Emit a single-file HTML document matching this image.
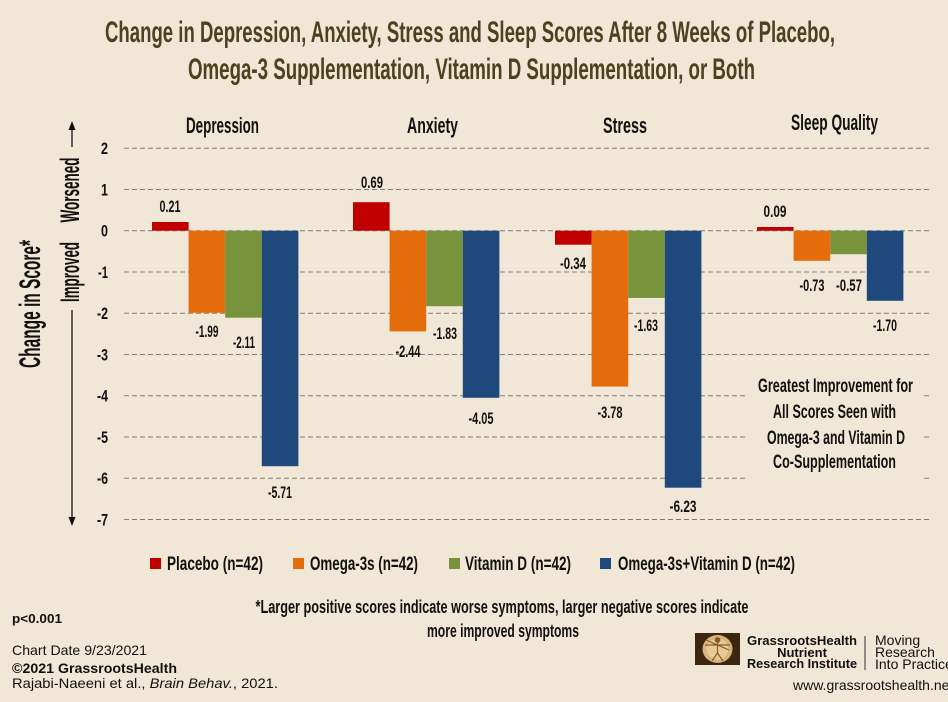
<!DOCTYPE html>
<html><head><meta charset="utf-8"><style>
html,body{margin:0;padding:0;background:#F1E7D6;}
svg{display:block;}
.c{font-family:"Liberation Sans Narrow","Liberation Sans",sans-serif;font-weight:bold;fill:#111;}
.t{font-family:"Liberation Sans Narrow","Liberation Sans",sans-serif;font-weight:bold;fill:#4A4221;}
.a{font-family:"Liberation Sans",Arial,sans-serif;fill:#111;}
</style></head><body>
<svg width="948" height="702" viewBox="0 0 948 702" xmlns="http://www.w3.org/2000/svg">
<rect width="948" height="702" fill="#F1E7D6"/>
<!-- Title -->
<text class="t" x="470" y="42" font-size="30" text-anchor="middle" textLength="730" lengthAdjust="spacingAndGlyphs">Change in Depression, Anxiety, Stress and Sleep Scores After 8 Weeks of Placebo,</text>
<text class="t" x="471.5" y="79" font-size="30" text-anchor="middle" textLength="567" lengthAdjust="spacingAndGlyphs">Omega-3 Supplementation, Vitamin D Supplementation, or Both</text>

<!-- Category labels -->
<text class="c" x="222.5" y="133" font-size="22" text-anchor="middle" textLength="73" lengthAdjust="spacingAndGlyphs">Depression</text>
<text class="c" x="432.5" y="133" font-size="22" text-anchor="middle" textLength="51" lengthAdjust="spacingAndGlyphs">Anxiety</text>
<text class="c" x="625" y="133" font-size="22" text-anchor="middle" textLength="44" lengthAdjust="spacingAndGlyphs">Stress</text>
<text class="c" x="834.5" y="130" font-size="22" text-anchor="middle" textLength="87" lengthAdjust="spacingAndGlyphs">Sleep Quality</text>

<!-- Gridlines -->
<g stroke="#7F7F7F" stroke-width="1" stroke-dasharray="5,3">
<line x1="124" x2="932" y1="148.2" y2="148.2"/>
<line x1="124" x2="932" y1="189.45" y2="189.45"/>
<line x1="124" x2="932" y1="230.7" y2="230.7"/>
<line x1="124" x2="932" y1="271.95" y2="271.95"/>
<line x1="124" x2="932" y1="313.2" y2="313.2"/>
<line x1="124" x2="932" y1="354.45" y2="354.45"/>
<line x1="124" x2="932" y1="395.7" y2="395.7"/>
<line x1="124" x2="932" y1="436.95" y2="436.95"/>
<line x1="124" x2="932" y1="478.2" y2="478.2"/>
<line x1="124" x2="932" y1="519.45" y2="519.45"/>
</g>
<!-- text box background -->
<rect x="745" y="366" width="177" height="118" fill="#F1E7D6"/>

<!-- Tick labels -->
<g class="c" font-size="17" text-anchor="end">
<text x="108" y="154.2" textLength="7" lengthAdjust="spacingAndGlyphs">2</text>
<text x="108" y="195.5" textLength="7" lengthAdjust="spacingAndGlyphs">1</text>
<text x="108" y="236.7" textLength="7" lengthAdjust="spacingAndGlyphs">0</text>
<text x="108" y="278" textLength="10" lengthAdjust="spacingAndGlyphs">-1</text>
<text x="108" y="319.2" textLength="11" lengthAdjust="spacingAndGlyphs">-2</text>
<text x="108" y="360.5" textLength="11" lengthAdjust="spacingAndGlyphs">-3</text>
<text x="108" y="401.7" textLength="11" lengthAdjust="spacingAndGlyphs">-4</text>
<text x="108" y="443" textLength="11" lengthAdjust="spacingAndGlyphs">-5</text>
<text x="108" y="484.2" textLength="11" lengthAdjust="spacingAndGlyphs">-6</text>
<text x="108" y="525.5" textLength="11" lengthAdjust="spacingAndGlyphs">-7</text>
</g>

<!-- Bars -->
<g>
<!-- Depression -->
<rect x="152" y="222.0" width="36.6" height="8.7" fill="#C00000"/>
<rect x="188.6" y="230.7" width="36.6" height="82.1" fill="#E46C0A"/>
<rect x="225.2" y="230.7" width="36.6" height="87.0" fill="#77933C"/>
<rect x="261.8" y="230.7" width="36.6" height="235.5" fill="#1F497D"/>
<!-- Anxiety -->
<rect x="353" y="202.2" width="36.6" height="28.5" fill="#C00000"/>
<rect x="389.6" y="230.7" width="36.6" height="100.7" fill="#E46C0A"/>
<rect x="426.2" y="230.7" width="36.6" height="75.5" fill="#77933C"/>
<rect x="462.8" y="230.7" width="36.6" height="167.1" fill="#1F497D"/>
<!-- Stress -->
<rect x="555" y="230.7" width="36.6" height="14.0" fill="#C00000"/>
<rect x="591.6" y="230.7" width="36.6" height="155.9" fill="#E46C0A"/>
<rect x="628.2" y="230.7" width="36.6" height="67.2" fill="#77933C"/>
<rect x="664.8" y="230.7" width="36.6" height="257.0" fill="#1F497D"/>
<!-- Sleep -->
<rect x="757" y="227.0" width="36.6" height="3.7" fill="#C00000"/>
<rect x="793.6" y="230.7" width="36.6" height="30.1" fill="#E46C0A"/>
<rect x="830.2" y="230.7" width="36.6" height="23.5" fill="#77933C"/>
<rect x="866.8" y="230.7" width="36.6" height="70.1" fill="#1F497D"/>
</g>

<!-- Value labels -->
<g class="c" font-size="17" text-anchor="middle">
<text x="170" y="212" textLength="21" lengthAdjust="spacingAndGlyphs">0.21</text>
<text x="207" y="337" textLength="23" lengthAdjust="spacingAndGlyphs">-1.99</text>
<text x="244" y="348" textLength="22" lengthAdjust="spacingAndGlyphs">-2.11</text>
<text x="280" y="498" textLength="24" lengthAdjust="spacingAndGlyphs">-5.71</text>
<text x="372" y="188" textLength="22" lengthAdjust="spacingAndGlyphs">0.69</text>
<text x="408" y="357" textLength="25" lengthAdjust="spacingAndGlyphs">-2.44</text>
<text x="445" y="339" textLength="24" lengthAdjust="spacingAndGlyphs">-1.83</text>
<text x="481" y="424" textLength="25" lengthAdjust="spacingAndGlyphs">-4.05</text>
<text x="573" y="269" textLength="26" lengthAdjust="spacingAndGlyphs">-0.34</text>
<text x="610" y="418" textLength="25" lengthAdjust="spacingAndGlyphs">-3.78</text>
<text x="646" y="331" textLength="24" lengthAdjust="spacingAndGlyphs">-1.63</text>
<text x="683" y="512" textLength="27" lengthAdjust="spacingAndGlyphs">-6.23</text>
<text x="775" y="217" textLength="23" lengthAdjust="spacingAndGlyphs">0.09</text>
<text x="812" y="291" textLength="25" lengthAdjust="spacingAndGlyphs">-0.73</text>
<text x="849" y="291" textLength="26" lengthAdjust="spacingAndGlyphs">-0.57</text>
<text x="885" y="331" textLength="24" lengthAdjust="spacingAndGlyphs">-1.70</text>
</g>

<!-- Text box -->
<g class="c" font-size="19" text-anchor="middle">
<text x="835.5" y="392" textLength="155" lengthAdjust="spacingAndGlyphs">Greatest Improvement for</text>
<text x="834.5" y="418" textLength="123" lengthAdjust="spacingAndGlyphs">All Scores Seen with</text>
<text x="836" y="444" textLength="138" lengthAdjust="spacingAndGlyphs">Omega-3 and Vitamin D</text>
<text x="834.5" y="468" textLength="123" lengthAdjust="spacingAndGlyphs">Co-Supplementation</text>
</g>

<!-- Y axis arrows and labels -->
<g stroke="#111" stroke-width="1.3">
<line x1="72" y1="128" x2="72" y2="147"/>
<line x1="72" y1="310" x2="72" y2="518"/>
</g>
<polygon points="72,121 68.5,130 75.5,130" fill="#111"/>
<polygon points="72,526 68.5,517 75.5,517" fill="#111"/>
<text class="c" font-size="27" transform="translate(79,190) rotate(-90)" text-anchor="middle" textLength="65" lengthAdjust="spacingAndGlyphs">Worsened</text>
<text class="c" font-size="27" transform="translate(79,272) rotate(-90)" text-anchor="middle" textLength="60" lengthAdjust="spacingAndGlyphs">Improved</text>
<text class="c" font-size="30" transform="translate(40,304) rotate(-90)" text-anchor="middle" textLength="128" lengthAdjust="spacingAndGlyphs">Change in Score*</text>

<!-- Legend -->
<rect x="150" y="558" width="11" height="11" fill="#C00000"/>
<text class="c" x="167" y="570" font-size="19" textLength="96" lengthAdjust="spacingAndGlyphs">Placebo (n=42)</text>
<rect x="293" y="558" width="11" height="11" fill="#E46C0A"/>
<text class="c" x="310" y="570" font-size="19" textLength="108" lengthAdjust="spacingAndGlyphs">Omega-3s (n=42)</text>
<rect x="449" y="558" width="11" height="11" fill="#77933C"/>
<text class="c" x="465" y="570" font-size="19" textLength="106" lengthAdjust="spacingAndGlyphs">Vitamin D (n=42)</text>
<rect x="600" y="558" width="11" height="11" fill="#1F497D"/>
<text class="c" x="618" y="570" font-size="19" textLength="177" lengthAdjust="spacingAndGlyphs">Omega-3s+Vitamin D (n=42)</text>

<!-- Footnote -->
<text class="c" x="502" y="613" font-size="18" text-anchor="middle" textLength="493" lengthAdjust="spacingAndGlyphs">*Larger positive scores indicate worse symptoms, larger negative scores indicate</text>
<text class="c" x="503" y="637" font-size="18" text-anchor="middle" textLength="152" lengthAdjust="spacingAndGlyphs">more improved symptoms</text>

<!-- Bottom left -->
<text class="a" x="12" y="623" font-size="13" font-weight="bold" textLength="50" lengthAdjust="spacingAndGlyphs">p&lt;0.001</text>
<text class="a" x="12" y="655" font-size="14" textLength="135" lengthAdjust="spacingAndGlyphs">Chart Date 9/23/2021</text>
<text class="a" x="12" y="673" font-size="14" font-weight="bold" textLength="165" lengthAdjust="spacingAndGlyphs">©2021 GrassrootsHealth</text>
<text class="a" x="12" y="688" font-size="14" textLength="266" lengthAdjust="spacingAndGlyphs">Rajabi-Naeeni et al., <tspan font-style="italic">Brain Behav.</tspan>, 2021.</text>

<!-- Logo -->
<rect x="695" y="633" width="45" height="32" fill="#3B2612"/>
<ellipse cx="717.5" cy="649" rx="15" ry="14" fill="#D8B47A"/>
<ellipse cx="717.5" cy="649" rx="11" ry="10.5" fill="#E6CB98"/>
<g stroke="#8A5A24" stroke-width="1.2" fill="none">
<circle cx="717.5" cy="640" r="2.3" fill="#8A5A24"/>
<line x1="717.5" y1="642" x2="717.5" y2="653"/>
<line x1="705" y1="645" x2="730" y2="645"/>
<line x1="706" y1="640" x2="729" y2="650"/>
<line x1="717.5" y1="653" x2="712" y2="661"/>
<line x1="717.5" y1="653" x2="723" y2="661"/>
</g>
<text class="a" x="802" y="645" font-size="13" font-weight="bold" text-anchor="middle" textLength="110" lengthAdjust="spacingAndGlyphs">GrassrootsHealth</text>
<text class="a" x="802" y="657" font-size="13" font-weight="bold" text-anchor="middle">Nutrient</text>
<text class="a" x="802" y="668" font-size="13" font-weight="bold" text-anchor="middle" textLength="110" lengthAdjust="spacingAndGlyphs">Research Institute</text>
<line x1="865" y1="636" x2="865" y2="670" stroke="#333" stroke-width="1"/>
<text class="a" x="875" y="645" font-size="14">Moving</text>
<text class="a" x="875" y="657" font-size="14">Research</text>
<text class="a" x="875" y="669" font-size="14">Into Practice</text>
<text class="a" x="793" y="690" font-size="14">www.grassrootshealth.net</text>
</svg>
</body></html>
